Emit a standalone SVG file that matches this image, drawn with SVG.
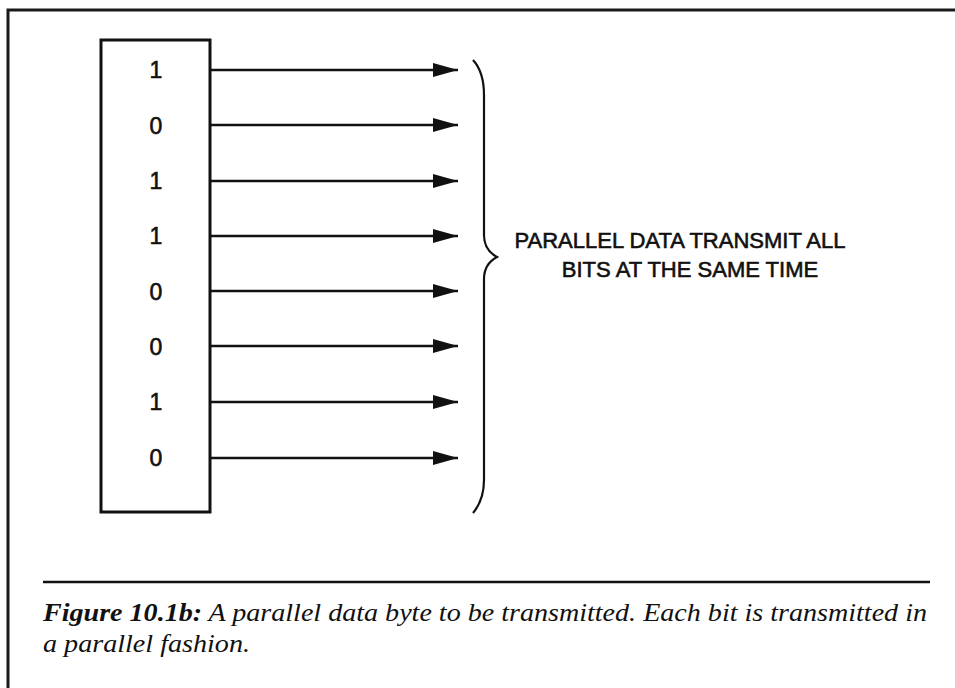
<svg xmlns="http://www.w3.org/2000/svg" width="955" height="688" viewBox="0 0 955 688">
<style>
.frame{fill:none;stroke:#1a1a1a;stroke-width:3}
.box{fill:none;stroke:#111;stroke-width:3}
.bit{font-family:"Liberation Sans",Arial,sans-serif;font-size:23px;fill:#111;stroke:#111;stroke-width:0.6;text-anchor:middle}
.conn{stroke:#111;stroke-width:2.5;fill:none}
.lbl{font-family:"Liberation Sans",Arial,sans-serif;font-size:22px;fill:#111;stroke:#111;stroke-width:0.6;text-anchor:middle}
.cap{font-family:"Liberation Serif","Times New Roman",serif;font-size:25px;font-style:italic;fill:#111}
</style>
<defs>
<marker id="ah" markerWidth="26" markerHeight="16" refX="25" refY="8" orient="auto" markerUnits="userSpaceOnUse">
<path d="M0,1 L25,8 L0,15 Z" fill="#111"/>
</marker>
</defs>
<rect width="955" height="688" fill="#fff"/>
<g id="frame">
<path class="frame" d="M8,690 L8,10 L960,10"/>
</g>
<g id="register">
<rect class="box" x="101" y="40" width="109" height="472"/>
<text class="bit" x="156" y="78">1</text>
<text class="bit" x="156" y="134">0</text>
<text class="bit" x="156" y="189">1</text>
<text class="bit" x="156" y="244">1</text>
<text class="bit" x="156" y="300">0</text>
<text class="bit" x="156" y="355">0</text>
<text class="bit" x="156" y="410">1</text>
<text class="bit" x="156" y="466">0</text>
</g>
<g id="connectors">
<line class="conn" x1="210" y1="70" x2="458" y2="70" marker-end="url(#ah)"/>
<line class="conn" x1="210" y1="125" x2="458" y2="125" marker-end="url(#ah)"/>
<line class="conn" x1="210" y1="181" x2="458" y2="181" marker-end="url(#ah)"/>
<line class="conn" x1="210" y1="236" x2="458" y2="236" marker-end="url(#ah)"/>
<line class="conn" x1="210" y1="291" x2="458" y2="291" marker-end="url(#ah)"/>
<line class="conn" x1="210" y1="346" x2="458" y2="346" marker-end="url(#ah)"/>
<line class="conn" x1="210" y1="402" x2="458" y2="402" marker-end="url(#ah)"/>
<line class="conn" x1="210" y1="458" x2="458" y2="458" marker-end="url(#ah)"/>
</g>
<g id="brace">
<path d="M473,60 Q484,72 484,95 L484,235 Q484,250 497,257 Q484,264 484,279 L484,480 Q484,500 473,513" fill="none" stroke="#111" stroke-width="2.2"/>
</g>
<g id="label">
<text class="lbl" x="680" y="248">PARALLEL DATA TRANSMIT ALL</text>
<text class="lbl" x="690" y="277">BITS AT THE SAME TIME</text>
</g>
<g id="caption">
<line x1="43" y1="582" x2="930" y2="582" stroke="#111" stroke-width="2.5"/>
<text class="cap" x="43" y="621" textLength="884" lengthAdjust="spacingAndGlyphs"><tspan font-weight="bold">Figure 10.1b:</tspan> A parallel data byte to be transmitted. Each bit is transmitted in</text>
<text class="cap" x="43" y="652" textLength="207" lengthAdjust="spacingAndGlyphs">a parallel fashion.</text>
</g>
</svg>
